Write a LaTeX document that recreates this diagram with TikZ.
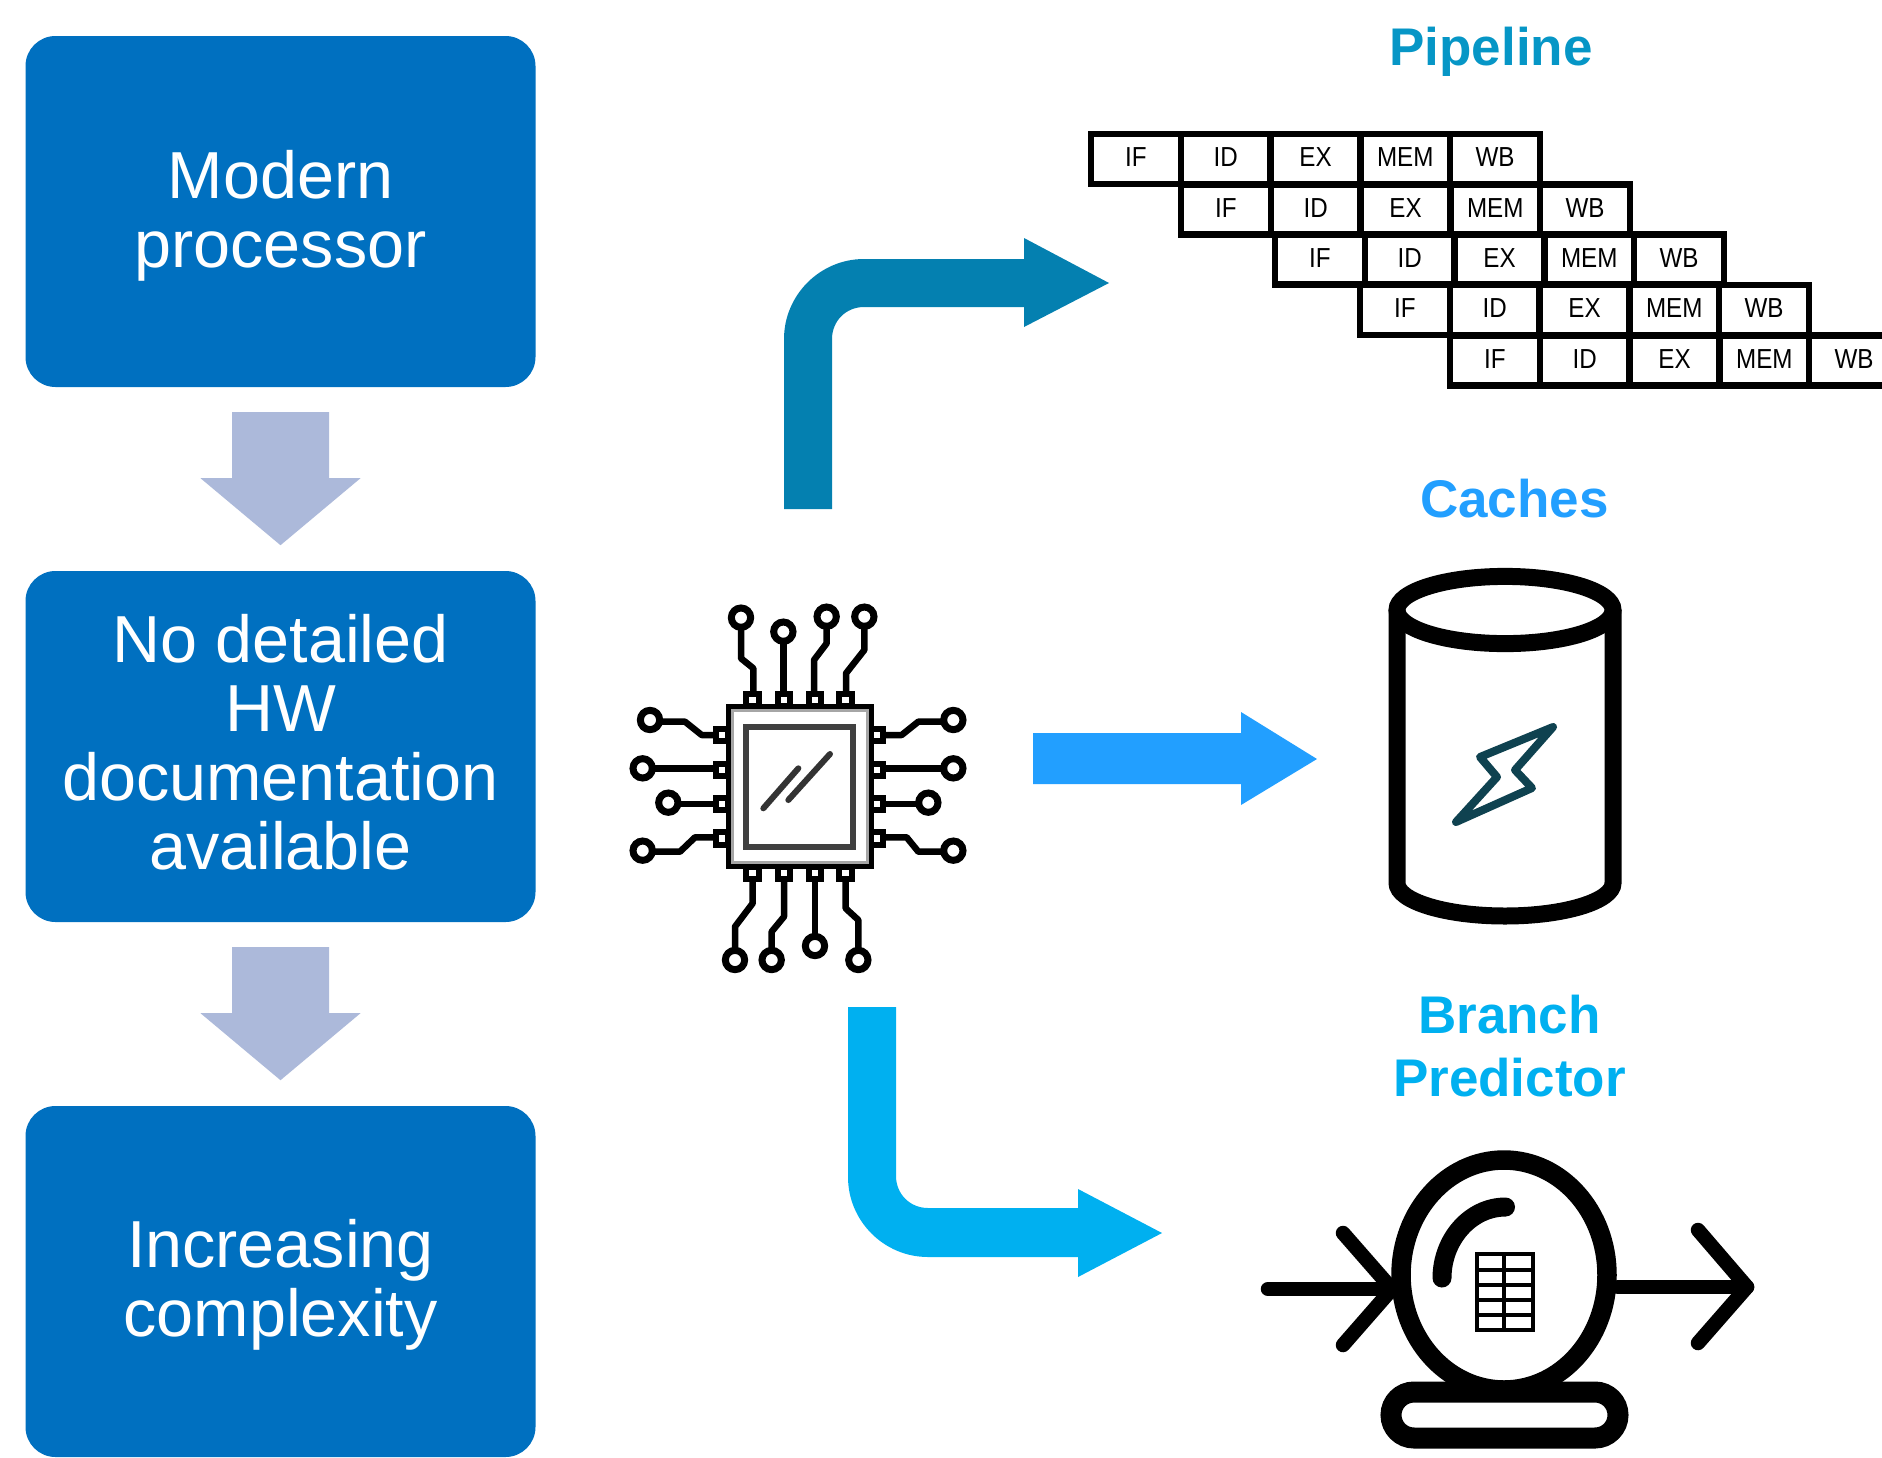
\documentclass[tikz,border=0pt]{standalone}
\usepackage{fontspec}
\usetikzlibrary{calc}
\setmainfont{Liberation Sans}
\newfontfamily\pipefont[FakeStretch=0.88]{Liberation Sans}
\definecolor{boxblue}{HTML}{0070C0}
\definecolor{downgray}{HTML}{ACB9DA}
\definecolor{pipearrow}{HTML}{0480B0}
\definecolor{pipetitle}{HTML}{0696C6}
\definecolor{cachecol}{HTML}{229FFF}
\definecolor{branchcol}{HTML}{00B0F0}
\definecolor{boltcol}{HTML}{0F4250}
\tikzset{
  mainbox/.style={fill=boxblue,rounded corners=30pt,minimum width=510pt,minimum height=351pt,
    text=white,align=center,inner sep=0pt,font=\fontsize{66.5}{69}\selectfont},
  cell/.style={draw=black,line width=6.5pt,minimum width=89.8pt,minimum height=50.4pt,inner sep=0pt,
    font=\pipefont\fontsize{27.5}{30}\selectfont},
  sectitle/.style={align=center,inner sep=0pt,font=\fontsize{53}{63}\selectfont\bfseries},
  trace/.style={draw=black,line width=6.5pt,line join=round},
  pad/.style={draw=black,line width=6pt,fill=white},
  pin/.style={draw=black,line width=7pt,fill=white},
  heavy/.style={draw=black,line cap=round,line join=round},
}
\newcommand{\boxlines}[2]{\raisebox{#1}[0pt][0pt]{\begin{tabular}{@{}c@{}}#2\end{tabular}}}
\newcommand{\downarr}[1]{%
  \begin{scope}[shift={(#1.south)}]
    \fill[downgray] (-48.5,25) -- (48.5,25) -- (48.5,91) -- (80,91) -- (0,158) -- (-80,91) -- (-48.5,91) -- cycle;
  \end{scope}}
\newcommand{\pipeRow}[3]{% name prefix, left x, y centre
  \foreach \t [count=\i] in {IF,ID,EX,MEM,WB}{
    \node[cell] (#1\i) at ({#2+44.9+(\i-1)*89.8},#3) {\raisebox{3.4pt}{\t}};
  }}
\begin{document}
\begin{tikzpicture}[x=1pt,y=-1pt]
\useasboundingbox (0,0) rectangle (1882,1457);
\clip (0,0) rectangle (1882,1457);
\fill[white] (0,0) rectangle (1882,1457);

% left column
\node[mainbox] (b1) at (280.5,211.5) {\boxlines{-14.2pt}{Modern\\processor}};
\node[mainbox] (b2) at (280.5,746.5) {\boxlines{-11.8pt}{No detailed\\HW\\documentation\\available}};
\node[mainbox] (b3) at (280.5,1281.5) {\boxlines{-13pt}{Increasing\\complexity}};
\downarr{b1}
\downarr{b2}

% titles
\node[sectitle,text=pipetitle] (t1) at (1491,52) {Pipeline};
\node[sectitle,text=cachecol] (t2) at (1514.5,499) {Caches};
\node[sectitle,text=branchcol] (t3) at (1509.5,1046) {Branch\\Predictor};

% block arrows
\fill[pipearrow] (784,509) -- (784,339) .. controls (784,295) and (820,259) .. (864,259)
  -- (1024,259) -- (1024,238) -- (1109,283) -- (1024,327) -- (1024,307) -- (864,307)
  .. controls (846,307) and (832,321) .. (832,339) -- (832,509) -- cycle;
\fill[cachecol] (1033,733) -- (1241,733) -- (1241,712) -- (1317,759) -- (1241,805) -- (1241,784) -- (1033,784) -- cycle;
\fill[branchcol] (848,1007) -- (848,1177) .. controls (848,1221) and (884,1257) .. (928,1257)
  -- (1078,1257) -- (1078,1277) -- (1162,1233) -- (1078,1189) -- (1078,1208) -- (928,1208)
  .. controls (910,1208) and (896,1194) .. (896,1176) -- (896,1007) -- cycle;

% pipeline grid
\pipeRow{ra}{1091}{159}
\pipeRow{rb}{1181}{209.5}
\pipeRow{rc}{1275}{259.5}
\pipeRow{rd}{1360}{310}
\pipeRow{re}{1450}{360.5}

% chip
\begin{scope}[shift={(610,580)},scale=1/3]
  \draw[trace] (393,145) -- (393,235) -- (430,265) -- (430,335);
  \draw[trace] (520,185) -- (520,335);
  \draw[trace] (650,140) -- (650,190) -- (612,240) -- (612,335);
  \draw[trace] (763,140) -- (763,210) -- (708,280) -- (708,335);
  \draw[trace] (150,425) -- (225,425) -- (275,465) -- (320,465);
  \draw[trace] (128,565) -- (320,565);
  \draw[trace] (205,672) -- (320,672);
  \draw[trace] (130,815) -- (210,815) -- (255,772) -- (320,772);
  \draw[trace] (1000,425) -- (925,425) -- (875,465) -- (815,465);
  \draw[trace] (1000,565) -- (815,565);
  \draw[trace] (925,672) -- (815,672);
  \draw[trace] (1000,815) -- (925,815) -- (890,772) -- (815,772);
  \draw[trace] (375,1110) -- (375,1040) -- (428,970) -- (428,905);
  \draw[trace] (485,1110) -- (485,1055) -- (522,1010) -- (522,905);
  \draw[trace] (615,1068) -- (615,905);
  \draw[trace] (745,1110) -- (745,1020) -- (707,985) -- (707,905);
  \foreach \x/\y in {393/113,520/155,650/110,763/110,120/420,98/565,175/668,98/812,
    1030/420,1030/565,955/668,1030/812,375/1140,485/1140,615/1098,745/1140}{
    \draw[pin] (\x,\y) circle[radius=29];
  }
  \foreach \x in {428,522,615,707}{
    \draw[pad] (\x-19,342) rectangle (\x+19,378);
    \draw[pad] (\x-19,862) rectangle (\x+19,898);
  }
  \foreach \y in {465,570,672,775}{
    \draw[pad] (318,\y-19) rectangle (354,\y+19);
    \draw[pad] (784,\y-19) rectangle (820,\y+19);
  }
  \draw[draw=black,line width=5pt,fill=white] (355,380) rectangle (785,860);
  \draw[draw=black!35,line width=3pt] (367,392) rectangle (773,848);
  \draw[draw=black!75,line width=6pt,fill=white] (407,442) rectangle (729,802);
  \draw[draw=black!80,line width=6pt,line cap=round] (460,685) -- (565,565);
  \draw[draw=black!80,line width=6pt,line cap=round] (535,660) -- (660,522);
\end{scope}

% cylinder
\draw[draw=black,line width=17pt] (1397,610) -- (1397,883)
  .. controls (1397,901) and (1445,916) .. (1505,916)
  .. controls (1565,916) and (1613,901) .. (1613,883) -- (1613,610);
\draw[draw=black,line width=17pt] (1505,610) ellipse[x radius=108,y radius=33.6];
\draw[draw=boltcol,line width=8pt,line join=round]
  (1553,727) -- (1480,757) -- (1497,777) -- (1456,822) -- (1532,788) -- (1515,770) -- cycle;

% predictor
\draw[heavy,line width=14.5pt] (1268,1289) -- (1392,1289);
\draw[heavy,line width=14.5pt] (1343,1233) -- (1392,1289) -- (1343,1345);
\draw[heavy,line width=14.5pt] (1618,1287) -- (1747,1287);
\draw[heavy,line width=14.5pt] (1698,1230) -- (1747,1287) -- (1698,1343);
\draw[draw=black,line width=19.5pt,fill=white] (1504,1275) ellipse[x radius=103,y radius=115];
\draw[draw=black,line width=21pt,rounded corners=23pt] (1391,1392) rectangle (1618,1438);
\draw[heavy,line width=19pt] (1505.5,1207) .. controls (1470,1207) and (1442,1240) .. (1442,1278);
\draw[draw=black,line width=4pt] (1477,1254) rectangle (1533,1330);
\draw[draw=black,line width=4pt] (1504,1254) -- (1504,1330);
\foreach \y in {1269.5,1285,1300,1315.3}{
  \draw[draw=black,line width=4pt] (1477,\y) -- (1533,\y);
}
\end{tikzpicture}
\end{document}
